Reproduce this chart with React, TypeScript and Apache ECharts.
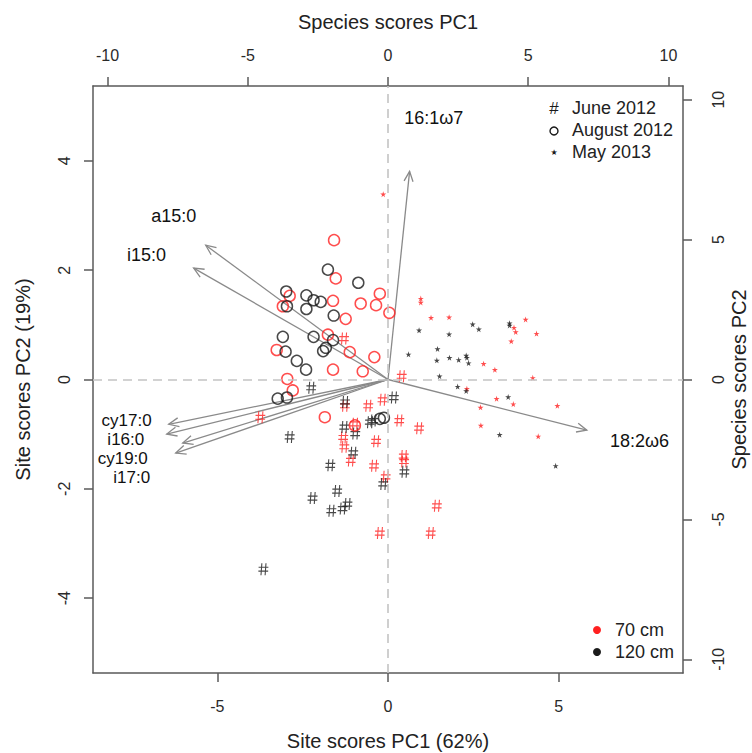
import React, { useEffect, useRef } from "react";
import * as echarts from "echarts";

// Site scores (PC1, PC2) per sampling / depth
const juneRed = [[-1.29,0.75],[0.40,0.06],[-3.74,-0.69],[-1.26,-0.48],[-0.58,-0.48],[-0.16,-0.37],[0.33,-0.75],[0.91,-0.89],[-0.97,-0.81],[-1.31,-1.06],[-1.28,-1.23],[-0.35,-1.13],[-1.09,-1.48],[-0.41,-1.58],[0.46,-1.40],[0.47,-1.50],[-0.07,-1.78],[-0.24,-2.81],[1.43,-2.31],[1.25,-2.81]];
const juneBlack = [[-2.25,-0.15],[-1.26,-0.41],[0.17,-0.33],[-2.88,-1.05],[-1.28,-0.87],[-0.96,-0.99],[-1.02,-1.34],[-1.69,-1.57],[-0.53,-0.78],[-0.43,-0.75],[0.48,-1.69],[-0.14,-1.91],[-1.49,-2.04],[-2.21,-2.17],[-1.66,-2.40],[-1.33,-2.36],[-1.19,-2.28],[-3.65,-3.47]];
const augustRed = [[-1.58,2.55],[-1.53,1.85],[-2.88,1.53],[-3.08,1.34],[-1.61,1.44],[-1.24,1.11],[-0.24,1.57],[-0.80,1.39],[-0.35,1.36],[0.04,1.22],[-1.76,0.82],[-3.26,0.54],[-1.12,0.50],[-0.40,0.41],[-1.61,0.18],[-0.74,0.15],[-2.95,0.01],[-2.79,-0.20],[-1.85,-0.69],[-0.97,-0.84]];
const augustBlack = [[-1.76,2.01],[-0.87,1.77],[-2.98,1.61],[-2.39,1.54],[-2.18,1.45],[-1.97,1.42],[-2.39,1.29],[-2.96,1.34],[-1.59,1.17],[-3.08,0.78],[-2.18,0.78],[-1.61,0.72],[-1.82,0.58],[-1.90,0.52],[-3.00,0.51],[-2.67,0.34],[-2.40,0.18],[-3.23,-0.35],[-2.96,-0.33],[-0.24,-0.72],[-0.12,-0.70]];
const mayRed = [[-0.14,3.39],[0.96,1.48],[0.96,1.41],[1.26,1.13],[1.79,1.14],[4.03,1.10],[3.69,0.95],[3.74,0.87],[4.35,0.84],[3.61,0.70],[2.80,0.29],[3.13,0.18],[4.24,0.03],[2.31,-0.17],[3.18,-0.35],[3.67,-0.45],[2.71,-0.51],[4.96,-0.48],[2.72,-0.84],[4.40,-1.04]];
const mayBlack = [[0.91,0.90],[1.79,0.83],[2.48,1.01],[2.66,0.92],[3.56,1.03],[3.56,0.99],[1.45,0.56],[0.60,0.46],[1.43,0.35],[1.80,0.40],[2.07,0.36],[2.29,0.44],[2.31,0.40],[2.36,0.30],[1.51,0.06],[2.04,-0.13],[2.29,-0.21],[3.52,-0.32],[3.27,-1.01],[4.91,-1.58]];

// Species scores (loading arrows)
const arrowNames = ["16:1ω7", "a15:0", "i15:0", "cy17:0", "i16:0", "cy19:0", "i17:0", "18:2ω6"];
const arrowX = [0.77, -6.50, -6.93, -7.82, -7.89, -7.32, -7.57, 7.09];
const arrowY = [7.44, 4.80, 3.98, -1.60, -1.95, -2.27, -2.63, -1.81];
const arrowLabelX = [1.63, -7.64, -8.61, -9.32, -9.35, -9.46, -9.14, 8.97];
const arrowLabelY = [9.33, 5.83, 4.44, -1.45, -2.13, -2.81, -3.49, -2.20];
const arrowLabelSize = [18, 18, 18, 17, 17, 17, 17, 18];

// Tick labels
const siteXTicks = [-5, 0, 5];
const siteYTicks = [-4, -2, 0, 2, 4];
const speciesTicks = [-10, -5, 0, 5, 10];

const sampleLegend = ["June 2012", "August 2012", "May 2013"];
const depthLegend = ["70 cm", "120 cm"];

const RED = "#ff2020";
const BLACK = "#1a1a1a";
const FONT = "'Liberation Sans', Arial, Helvetica, sans-serif";
const HASH = "path://M30 0L40 0L32 100L22 100Z M68 0L78 0L70 100L60 100Z M5 29L95 29L95 39L5 39Z M3 62L93 62L93 72L3 72Z";
const STAR = "path://M50 0L61 35L98 35L68 57L79 91L50 70L21 91L32 57L2 35L39 35Z";

export default function App() {
  const ref = useRef<HTMLDivElement>(null);
  useEffect(() => {
    if (!ref.current) return;
    const chart = echarts.init(ref.current, null, { renderer: "svg" });
    const axisLine = { show: true, onZero: false, lineStyle: { color: "#5a5a5a", width: 1.5 } };
    const tickStyle = { color: "#5a5a5a", width: 1.5 };
    const labelBase = { fontSize: 16, color: "#2a2a2a", fontFamily: FONT };
    const nameStyle = { fontSize: 20, color: "#222", fontFamily: FONT };

    const hashSeries = (data: number[][], color: string) => ({
      type: "scatter", xAxisIndex: 0, yAxisIndex: 0, data, symbol: HASH, symbolSize: [10, 12],
      itemStyle: { color }, z: 3,
    });
    const circleSeries = (data: number[][], color: string) => ({
      type: "scatter", xAxisIndex: 0, yAxisIndex: 0, data, symbol: "circle", symbolSize: 11,
      itemStyle: { color: "rgba(0,0,0,0)", borderColor: color, borderWidth: 1.5 }, z: 3,
    });
    const starSeries = (data: number[][], color: string) => ({
      type: "scatter", xAxisIndex: 0, yAxisIndex: 0, data, symbol: STAR, symbolSize: 6,
      itemStyle: { color }, z: 3,
    });

    const arrowData = arrowNames.map((_, i) => [arrowX[i], arrowY[i], arrowLabelX[i], arrowLabelY[i]]);

    const option: any = {
      animation: false,
      backgroundColor: "#fff",
      grid: { left: 93, right: 69, top: 86, bottom: 80, outerBoundsMode: "none", containLabel: false },
      xAxis: [
        {
          type: "value", position: "bottom", min: -8.64, max: 8.64,
          axisLine, splitLine: { show: false },
          axisTick: { show: true, length: 9, customValues: siteXTicks, lineStyle: tickStyle },
          axisLabel: { ...labelBase, customValues: siteXTicks, margin: 25 },
          name: "Site scores PC1 (62%)", nameLocation: "middle", nameGap: 58, nameTextStyle: nameStyle,
        },
        {
          type: "value", position: "top", min: -10.52, max: 10.52,
          axisLine, splitLine: { show: false },
          axisTick: { show: true, length: 9, customValues: speciesTicks, lineStyle: tickStyle },
          axisLabel: { ...labelBase, customValues: speciesTicks, margin: 23 },
          name: "Species scores PC1", nameLocation: "middle", nameGap: 54, nameTextStyle: nameStyle,
        },
      ],
      yAxis: [
        {
          type: "value", position: "left", min: -5.37, max: 5.37,
          axisLine, splitLine: { show: false },
          axisTick: { show: true, length: 9, customValues: siteYTicks, lineStyle: tickStyle },
          axisLabel: { ...labelBase, customValues: siteYTicks, margin: 21, rotate: 90 },
          name: "Site scores PC2 (19%)", nameLocation: "middle", nameGap: 60, nameTextStyle: nameStyle,
        },
        {
          type: "value", position: "right", min: -10.49, max: 10.49,
          axisLine, splitLine: { show: false },
          axisTick: { show: true, length: 9, customValues: speciesTicks, lineStyle: tickStyle },
          axisLabel: { ...labelBase, customValues: speciesTicks, margin: 27, rotate: 90 },
          name: "Species scores PC2", nameLocation: "middle", nameGap: 46, nameRotate: 90,
          nameMoveOverlap: false, nameTextStyle: nameStyle,
        },
      ],
      series: [
        {
          type: "scatter", xAxisIndex: 0, yAxisIndex: 0, data: [], z: 1,
          markLine: {
            silent: true, symbol: ["none", "none"], label: { show: false },
            lineStyle: { type: [9, 6], color: "#c4c4c4", width: 1.6 },
            data: [{ xAxis: 0 }, { yAxis: 0 }],
          },
        },
        {
          type: "custom", xAxisIndex: 1, yAxisIndex: 1, data: arrowData, z: 2, clip: false,
          renderItem: (params: any, api: any) => {
            const o = api.coord([0, 0]);
            const t = api.coord([api.value(0), api.value(1)]);
            const l = api.coord([api.value(2), api.value(3)]);
            const ang = Math.atan2(t[1] - o[1], t[0] - o[0]);
            const h = 11, a = 0.42;
            const p1 = [t[0] - h * Math.cos(ang - a), t[1] - h * Math.sin(ang - a)];
            const p2 = [t[0] - h * Math.cos(ang + a), t[1] - h * Math.sin(ang + a)];
            return {
              type: "group",
              children: [
                { type: "line", shape: { x1: o[0], y1: o[1], x2: t[0], y2: t[1] }, style: { stroke: "#8a8a8a", lineWidth: 1.3 } },
                { type: "polyline", shape: { points: [p1, t, p2] }, style: { stroke: "#8a8a8a", lineWidth: 1.3, fill: null } },
                {
                  type: "text", x: l[0], y: l[1],
                  style: { text: arrowNames[params.dataIndex], fontSize: arrowLabelSize[params.dataIndex], fontFamily: FONT, fill: "#111", align: "center", verticalAlign: "middle" },
                },
              ],
            };
          },
        },
        hashSeries(juneRed, RED),
        hashSeries(juneBlack, BLACK),
        circleSeries(augustRed, RED),
        circleSeries(augustBlack, BLACK),
        starSeries(mayRed, RED),
        starSeries(mayBlack, BLACK),
      ],
      graphic: [
        { type: "text", x: 554, y: 108, style: { text: "#", fontSize: 17, fontFamily: FONT, fill: BLACK, align: "center", verticalAlign: "middle" } },
        { type: "circle", shape: { cx: 554, cy: 131, r: 4 }, style: { stroke: BLACK, lineWidth: 1.4, fill: "none" } },
        { type: "text", x: 554, y: 152, style: { text: "★", fontSize: 8, fontFamily: "DejaVu Sans", fill: BLACK, align: "center", verticalAlign: "middle" } },
        ...sampleLegend.map((s, i) => ({
          type: "text", x: 572, y: 108 + i * 22,
          style: { text: s, fontSize: 18, fontFamily: FONT, fill: "#222", align: "left", verticalAlign: "middle" },
        })),
        { type: "circle", shape: { cx: 597, cy: 630, r: 4 }, style: { fill: RED } },
        { type: "circle", shape: { cx: 597, cy: 652, r: 4 }, style: { fill: BLACK } },
        ...depthLegend.map((s, i) => ({
          type: "text", x: 615, y: 630 + i * 22,
          style: { text: s, fontSize: 18, fontFamily: FONT, fill: "#222", align: "left", verticalAlign: "middle" },
        })),
      ],
    };
    chart.setOption(option);
    return () => chart.dispose();
  }, []);
  return <div ref={ref} style={{ position: "fixed", left: 0, top: 0, width: 752, height: 753 }} />;
}
